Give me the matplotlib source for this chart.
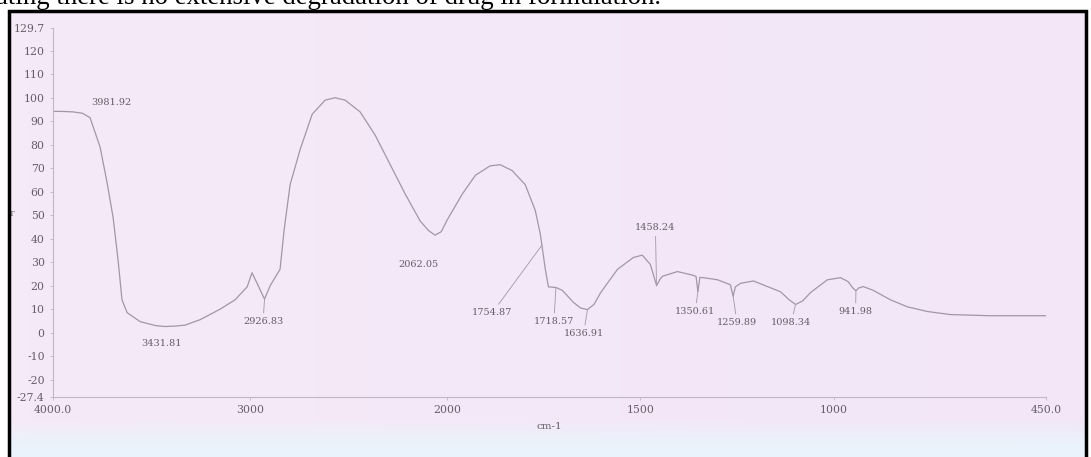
import numpy as np
import matplotlib
matplotlib.use("Agg")
import matplotlib.pyplot as plt
from matplotlib.patches import Rectangle

# FTIR spectrum (transmittance vs wavenumber)
wavenumber = [4000, 3960, 3900, 3850, 3812, 3761, 3726, 3695, 3670, 3650, 3624, 3558,
              3480, 3432, 3380, 3330, 3254, 3152, 3076, 3015, 2990, 2959, 2927, 2898,
              2848, 2827, 2797, 2746, 2685, 2619, 2569, 2518, 2442, 2365, 2289, 2213,
              2137, 2095, 2062, 2030, 2000, 1961, 1927, 1889, 1863, 1832, 1798, 1772,
              1759, 1746, 1738, 1718, 1702, 1674, 1655, 1637, 1620, 1603, 1559, 1518,
              1495, 1474, 1466, 1458, 1450, 1443, 1404, 1370, 1356, 1351, 1346, 1336,
              1300, 1267, 1260, 1254, 1241, 1207, 1171, 1137, 1115, 1098, 1080, 1060,
              1016, 982, 962, 950, 942, 935, 923, 897, 853, 809, 757, 698, 594, 450]
transmittance = [94.2, 94.2, 94.0, 93.4, 91.5, 79.0, 64.0, 49.0, 31.0, 14.0, 8.5, 4.7,
                 3.0, 2.6, 2.8, 3.2, 5.5, 10.0, 14.0, 19.5, 25.5, 20.0, 14.3, 20.0,
                 27.0, 44.0, 63.0, 78.0, 93.0, 99.0, 100.0, 99.0, 94.0, 84.0, 71.5, 59.0,
                 47.5, 43.5, 41.5, 43.0, 48.0, 59.0, 67.0, 71.0, 71.5, 69.0, 63.0, 52.0,
                 42.0, 27.0, 19.5, 19.2, 18.0, 13.0, 10.5, 9.8, 12.0, 17.0, 27.0, 32.0,
                 33.0, 29.0, 24.5, 20.0, 22.5, 24.0, 26.0, 24.7, 24.0, 17.5, 23.5, 23.4,
                 22.5, 20.4, 15.5, 19.5, 21.0, 22.0, 19.6, 17.4, 14.0, 12.0, 13.5, 17.0,
                 22.5, 23.4, 21.7, 19.0, 17.8, 19.0, 19.6, 18.0, 14.0, 11.0, 9.0, 7.7, 7.2,
                 7.2]

# Annotated peaks: wavenumber, label text position (data coords), connector flag
peak_text = ["3981.92", "3431.81", "2926.83", "2062.05", "1754.87", "1718.57",
             "1636.91", "1458.24", "1350.61", "1259.89", "1098.34", "941.98"]
peak_wn = [3981.92, 3431.81, 2926.83, 2062.05, 1754.87, 1718.57,
           1636.91, 1458.24, 1350.61, 1259.89, 1098.34, 941.98]
label_x = [3705, 3447, 2934, 2147, 1883, 1724, 1647, 1461, 1358, 1250, 1109, 943]
label_y = [98.0, -4.7, 4.7, 29.0, 8.5, 4.7, -0.4, 44.7, 9.0, 4.3, 4.3, 9.0]
connector = [False, False, True, False, True, True, True, True, True, True, True, True]

x_ticks = [4000, 3000, 2000, 1500, 1000, 450]
x_tick_labels = ["4000.0", "3000", "2000", "1500", "1000", "450.0"]
y_ticks = [-27.4, -20, -10, 0, 10, 20, 30, 40, 50, 60, 70, 80, 90, 100, 110, 120, 129.7]
y_tick_labels = ["-27.4", "-20", "-10", "0", "10", "20", "30", "40", "50", "60",
                 "70", "80", "90", "100", "110", "120", "129.7"]

caption = "ating there is no extensive degradation of drug in formulation."

W, H = 1091, 457
fig = plt.figure(figsize=(W / 100, H / 100), dpi=100)
fig.patch.set_facecolor("white")

# Framed panel with pink-to-blue background
bg = fig.add_axes([10 / W, 0, 1076 / W, 1 - 12 / H])
bg.set_axis_off()
pink = np.array([245, 234, 248]) / 255
lav = np.array([239, 227, 246]) / 255
blue = np.array([234, 243, 251]) / 255
ny, nx = 445, 60
rows = np.linspace(0, 1, ny)[:, None]
cols = np.linspace(0, 1, nx)[None, :]
img = pink[None, None, :] * (1 - 0.5 * cols[..., None]) + lav[None, None, :] * (0.5 * cols[..., None])
t = np.clip((rows * 445 - 408) / 25, 0, 1)[..., None]
img = img * (1 - t) + blue[None, None, :] * t
bg.imshow(img, aspect="auto", extent=[0, 1, 0, 1], origin="upper")
bg.set_xlim(0, 1)
bg.set_ylim(0, 1)

fig.patches.append(Rectangle((9 / W, -0.05), 1077 / W, 1.05 - 11 / H,
                             transform=fig.transFigure, fill=False,
                             edgecolor="black", linewidth=2.5, zorder=10))

# Running text line above the frame, sized to span the page width
cap = fig.text(661 / W, 1 - 4 / H, caption, ha="right", va="baseline",
               fontsize=17, family="Liberation Serif", color="black")
renderer = fig.canvas.get_renderer()
w = cap.get_window_extent(renderer).width
cap.set_fontsize(17 * 664 / w)

# Piecewise wavenumber scale: doubled resolution below 2000 cm-1
R = 1.96


def fwd(x):
    x = np.asarray(x, dtype=float)
    return np.where(x >= 2000, x, 2000 - R * (2000 - x))


def inv(u):
    u = np.asarray(u, dtype=float)
    return np.where(u >= 2000, u, 2000 - (2000 - u) / R)


ax = fig.add_axes([53 / W, 1 - 397 / H, (1046 - 53) / W, (397 - 28) / H])
ax.patch.set_alpha(0)
ax.set_xscale("function", functions=(fwd, inv))
ax.set_xlim(4000, 450)
ax.set_ylim(-27.4, 129.7)

line_color = "#a396a6"
axis_color = "#c2b6c6"
text_color = "#675d69"
small_font = dict(fontsize=7, family="DejaVu Serif", color=text_color)

ax.plot(wavenumber, transmittance, color=line_color, lw=0.9)

for txt, wn, lx, ly, con in zip(peak_text, peak_wn, label_x, label_y, connector):
    yv = np.interp(wn, wavenumber[::-1], transmittance[::-1])
    if con:
        ax.annotate(txt, xy=(wn, yv), xytext=(lx, ly), textcoords="data",
                    ha="center", va="center", **small_font,
                    arrowprops=dict(arrowstyle="-", color=line_color, lw=0.6,
                                    shrinkA=1, shrinkB=0))
    else:
        ax.text(lx, ly, txt, ha="center", va="center", **small_font)

for s in ["top", "right"]:
    ax.spines[s].set_visible(False)
for s in ["left", "bottom"]:
    ax.spines[s].set_color(axis_color)
    ax.spines[s].set_linewidth(0.8)

ax.set_xticks(x_ticks)
ax.set_xticklabels(x_tick_labels)
ax.xaxis.set_minor_locator(matplotlib.ticker.NullLocator())
ax.set_yticks(y_ticks)
ax.set_yticklabels(y_tick_labels)
ax.tick_params(axis="both", length=2, width=0.6, color=axis_color, labelsize=7.8,
               labelcolor=text_color)
ax.tick_params(axis="x", pad=4)
ax.tick_params(axis="y", pad=4)
for lbl in ax.get_xticklabels() + ax.get_yticklabels():
    lbl.set_family("DejaVu Serif")

ax.set_xlabel("cm-1", fontsize=7.5, family="DejaVu Serif", color=text_color, labelpad=5)
fig.text(12 / W, 1 - 214 / H, "T", fontsize=6, family="DejaVu Serif",
         color=text_color, ha="center", va="center")

fig.savefig("out.png", dpi=100)
